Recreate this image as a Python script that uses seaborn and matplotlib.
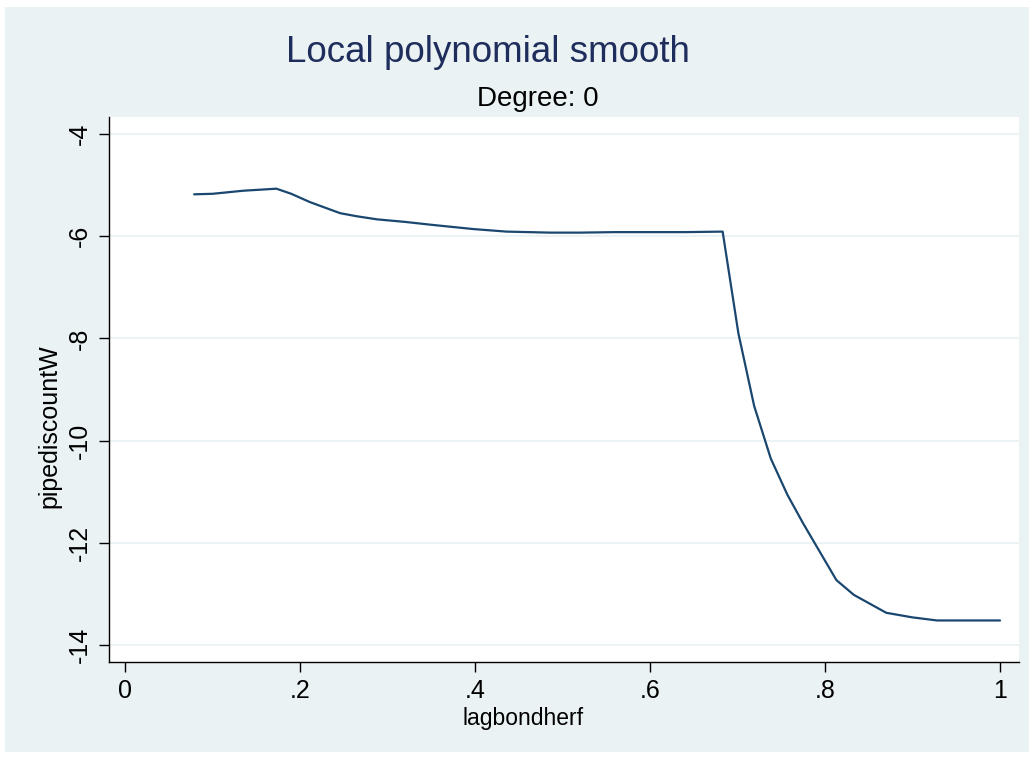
import matplotlib
matplotlib.use("Agg")
import matplotlib.pyplot as plt
from matplotlib.patches import Rectangle
import seaborn as sns
import pandas as pd

# ---- data ----
lagbondherf = [0.079, 0.100, 0.135, 0.173, 0.190, 0.211, 0.230, 0.246, 0.265,
               0.288, 0.320, 0.352, 0.398, 0.436, 0.486, 0.520, 0.560, 0.600,
               0.640, 0.683, 0.701, 0.719, 0.738, 0.757, 0.775, 0.813, 0.833,
               0.870, 0.900, 0.928, 1.000]
pipediscountW = [-5.18, -5.17, -5.11, -5.07, -5.17, -5.33, -5.45, -5.55, -5.61,
                 -5.67, -5.72, -5.78, -5.86, -5.91, -5.93, -5.93, -5.92, -5.92,
                 -5.92, -5.91, -7.90, -9.32, -10.35, -11.06, -11.62, -12.73, -13.02,
                 -13.37, -13.46, -13.52, -13.52]
x_ticks = [0, 0.2, 0.4, 0.6, 0.8, 1.0]
x_ticklabels = ["0", ".2", ".4", ".6", ".8", "1"]
y_ticks = [-4, -6, -8, -10, -12, -14]
y_ticklabels = ["-4", "-6", "-8", "-10", "-12", "-14"]

df = pd.DataFrame({"lagbondherf": lagbondherf, "pipediscountW": pipediscountW})

sns.set_style("white")
plt.rcParams["font.family"] = ["Liberation Sans", "DejaVu Sans"]

BG = "#EAF2F3"
LINE = "#1A476F"
TITLE = "#1E2D5C"

W, H = 1034, 759
fig = plt.figure(figsize=(W / 100, H / 100), dpi=100, facecolor="white")
fig.patches.append(Rectangle((5 / W, 1 - 752 / H), (1029 - 5) / W, (752 - 7) / H,
                             transform=fig.transFigure, facecolor=BG,
                             edgecolor="none", zorder=-10))

AX_L, AX_R, AX_T, AX_B = 109, 1019, 117, 662
ax = fig.add_axes([AX_L / W, 1 - AX_B / H, (AX_R - AX_L) / W, (AX_B - AX_T) / H])
ax.set_zorder(5)
ax.set_facecolor("white")

sns.lineplot(data=df, x="lagbondherf", y="pipediscountW", ax=ax,
             color=LINE, linewidth=1.6, sort=False, estimator=None)

ax.set_xlim(-0.0183, 1.0217)
ax.set_ylim(-14.333, -3.667)
ax.set_xticks(x_ticks)
ax.set_xticklabels(x_ticklabels)
ax.set_yticks(y_ticks)
ax.set_yticklabels(y_ticklabels, rotation=90, va="center")

for yv in y_ticks:
    ax.axhline(yv, color=BG, linewidth=1.3, zorder=0.5)

for s in ["top", "right"]:
    ax.spines[s].set_visible(False)
for s in ["left", "bottom"]:
    ax.spines[s].set_color("black")
    ax.spines[s].set_linewidth(1.0)

ax.tick_params(axis="both", which="major", direction="out", length=7.5, width=1.0,
               color="black", labelsize=18, labelcolor="black", pad=5,
               bottom=True, left=True)

ax.set_xlabel("lagbondherf", fontsize=16.5, color="black", va="center")
ax.xaxis.set_label_coords((523 - AX_L) / (AX_R - AX_L), (AX_B - 719) / (AX_B - AX_T))
ax.set_ylabel("pipediscountW", fontsize=18, color="black", va="center")
ax.yaxis.set_label_coords((49 - AX_L) / (AX_R - AX_L), (AX_B - 426) / (AX_B - AX_T))

fig.text(487.5 / W, 1 - 52 / H, "Local polynomial smooth", fontsize=26.5,
         color=TITLE, ha="center", va="center")
fig.text(538 / W, 1 - 99 / H, "Degree: 0", fontsize=20, color="black",
         ha="center", va="center")

fig.savefig("out.png", dpi=100, facecolor="white")
